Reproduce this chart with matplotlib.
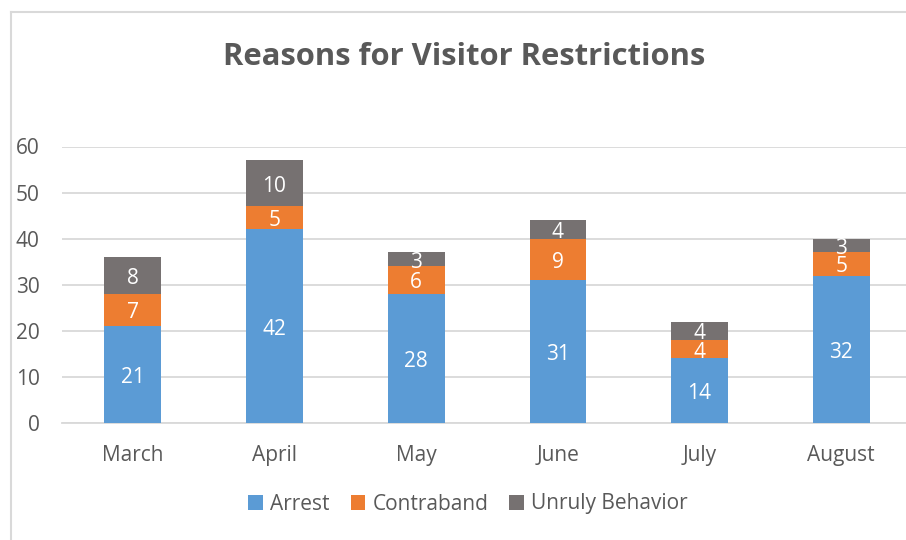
import matplotlib.pyplot as plt
from matplotlib.lines import Line2D
from matplotlib.patches import Patch

# Données
mois = ['March', 'April', 'May', 'June', 'July', 'August']
arrest = [21, 42, 28, 31, 14, 32]
contraband = [7, 5, 6, 9, 4, 5]
unruly = [8, 10, 3, 4, 4, 3]

COULEURS = ['#5B9BD5', '#ED7D31', '#767171']
NOMS = ['Arrest', 'Contraband', 'Unruly Behavior']
GRIS_TEXTE = '#595959'

plt.rcParams['font.family'] = ['Open Sans', 'DejaVu Sans']

fig = plt.figure(figsize=(9.06, 5.40), dpi=100)
ax = fig.add_axes([62 / 906, 117 / 540, 850 / 906, 276.5 / 540])

x = list(range(len(mois)))
bas = [0] * len(mois)
for serie, couleur in zip([arrest, contraband, unruly], COULEURS):
    barres = ax.bar(x, serie, width=0.4, bottom=bas, color=couleur, zorder=3)
    ax.bar_label(barres, labels=[str(v) for v in serie], label_type='center',
                 color='white', fontsize=15, padding=-2)
    bas = [b + v for b, v in zip(bas, serie)]

ax.set_xlim(-0.5, len(mois) - 0.5)
ax.set_ylim(0, 60)
ax.set_yticks(range(0, 61, 10))
ax.set_xticks(x)
ax.set_xticklabels(mois)
ax.yaxis.grid(True, color='#D9D9D9', linewidth=1.3, zorder=0)
for cote in ['top', 'right', 'left']:
    ax.spines[cote].set_visible(False)
ax.spines['bottom'].set_color('#D9D9D9')
ax.spines['bottom'].set_linewidth(1.3)
ax.tick_params(axis='both', length=0, colors=GRIS_TEXTE, labelsize=15)
ax.tick_params(axis='y', pad=16)
ax.tick_params(axis='x', pad=16)

fig.text(464 / 906, 1 - 57 / 540, 'Reasons for Visitor Restrictions', ha='center', va='center',
         fontsize=22.3, fontweight='bold', color=GRIS_TEXTE)

# légende
handles = [Patch(facecolor=c, edgecolor='none') for c in COULEURS]
fig.legend(handles, NOMS, loc='center', bbox_to_anchor=(468 / 906, 1 - 504 / 540), ncol=3,
           frameon=False, fontsize=15, labelcolor=GRIS_TEXTE, handlelength=0.7, handleheight=0.7,
           handletextpad=0.35, columnspacing=1.0)

# bordure du graphique
fig.add_artist(Line2D([11 / 906, 11 / 906], [0, 1 - 12 / 540], color='#D9D9D9', linewidth=1.5))
fig.add_artist(Line2D([11 / 906, 1], [1 - 12 / 540, 1 - 12 / 540], color='#D9D9D9', linewidth=1.5))

fig.savefig('out.png', dpi=100)
